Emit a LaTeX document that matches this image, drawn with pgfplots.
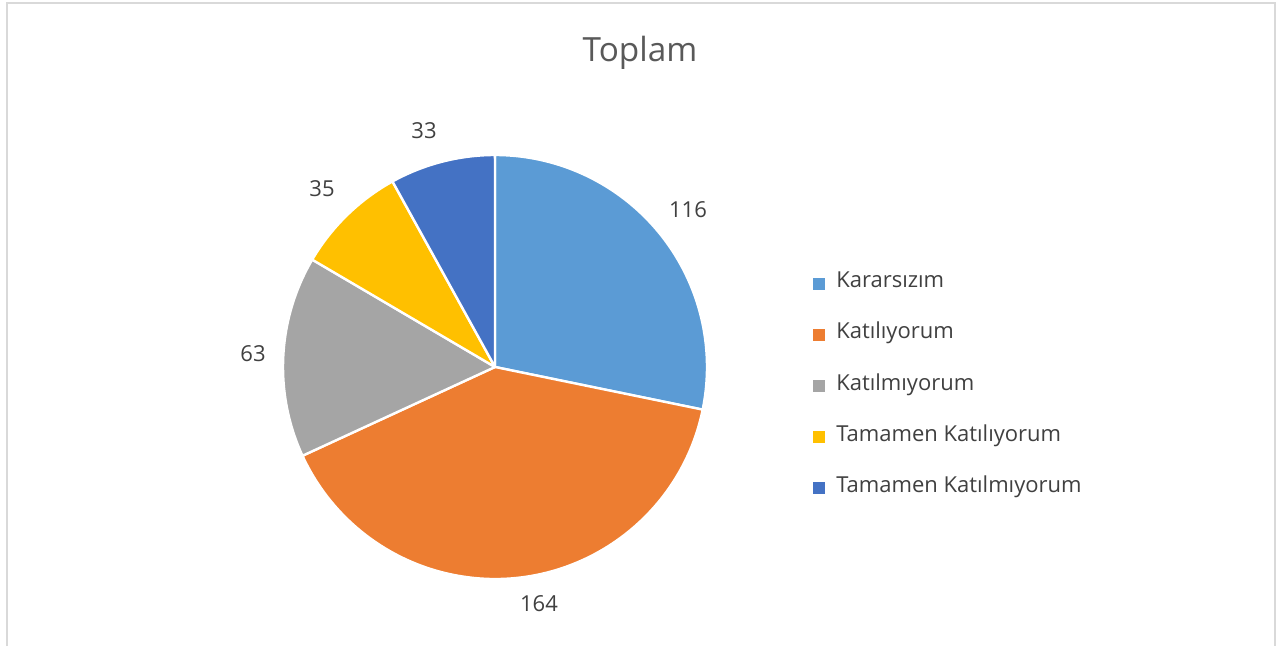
\documentclass[border=0pt]{standalone}
\usepackage{fontspec}
\setmainfont{Open Sans}
\usepackage{pgfplots}
\usepackage{pgfplotstable}
\pgfplotsset{compat=1.18}

\definecolor{c0}{HTML}{5B9BD5}
\definecolor{c1}{HTML}{ED7D31}
\definecolor{c2}{HTML}{A5A5A5}
\definecolor{c3}{HTML}{FFC000}
\definecolor{c4}{HTML}{4472C4}
\definecolor{titlegray}{HTML}{595959}
\definecolor{labelgray}{HTML}{404040}
\definecolor{framegray}{HTML}{D9D9D9}

% pie data; lx, ly = value label position (px from the top left)
\pgfplotstableread[col sep=comma]{
name,value,lx,ly
Kararsızım,116,688,210
Katılıyorum,164,539,604
Katılmıyorum,63,253,354
Tamamen Katılıyorum,35,322,189
Tamamen Katılmıyorum,33,424,131
}\piedata

\newcommand\getv[2]{\csname #1#2\endcsname}

\begin{document}
% total and slice angles (clockwise from the top)
\pgfplotstablegetrowsof{\piedata}%
\pgfmathtruncatemacro\lastrow{\pgfplotsretval-1}%
\xdef\total{0}%
\foreach \i in {0,...,\lastrow}{%
  \pgfplotstablegetelem{\i}{value}\of\piedata
  \pgfmathsetmacro\tmp{\total+\pgfplotsretval}%
  \xdef\total{\tmp}%
}%
\xdef\cur{90}%
\foreach \i in {0,...,\lastrow}{%
  \pgfplotstablegetelem{\i}{value}\of\piedata
  \expandafter\xdef\csname va\i\endcsname{\pgfplotsretval}%
  \pgfmathsetmacro\sweep{\pgfplotsretval/\total*360}%
  \pgfmathsetmacro\endang{\cur-\sweep}%
  \expandafter\xdef\csname sa\i\endcsname{\cur}%
  \expandafter\xdef\csname ea\i\endcsname{\endang}%
  \pgfplotstablegetelem{\i}{name}\of\piedata
  \expandafter\xdef\csname na\i\endcsname{\pgfplotsretval}%
  \pgfplotstablegetelem{\i}{lx}\of\piedata
  \expandafter\xdef\csname lx\i\endcsname{\pgfplotsretval}%
  \pgfplotstablegetelem{\i}{ly}\of\piedata
  \expandafter\xdef\csname ly\i\endcsname{\pgfplotsretval}%
  \xdef\cur{\endang}%
}%
\begin{tikzpicture}
\begin{axis}[
    hide axis,
    scale only axis,
    width=957.75pt, height=484.5pt,
    xmin=0, xmax=1277, ymin=0, ymax=646,
    clip=false,
]
\fill[white] (axis cs:0,0) rectangle (axis cs:1277,646);
\draw[framegray, line width=1.2pt] (axis cs:7,0) -- (axis cs:7,643) -- (axis cs:1275,643) -- (axis cs:1275,0);

\node[text=titlegray, font=\fontsize{25}{30}\selectfont, anchor=base] at (axis cs:640,584) {Toplam};

\pgfplotsinvokeforeach{0,...,\lastrow}{
  % slice
  \fill[c#1, draw=white, line width=1.8pt, line join=round]
    (axis cs:495,279) -- ++(\getv{sa}{#1}:159pt)
    arc[start angle=\getv{sa}{#1}, end angle=\getv{ea}{#1}, radius=159pt] -- cycle;
  % value label
  \node[text=labelgray, font=\fontsize{16.5}{20}\selectfont]
    at (axis cs:\getv{lx}{#1},{646-\getv{ly}{#1}}) {\getv{va}{#1}};
  % legend entry
  \fill[c#1] (axis cs:813,{646-290-51*#1}) rectangle (axis cs:825,{646-278-51*#1});
  \node[text=labelgray, font=\fontsize{16.5}{20}\selectfont, anchor=base west, inner sep=0pt]
    at (axis cs:836,{646-288-51*#1}) {\getv{na}{#1}};
}
\end{axis}
\end{tikzpicture}
\end{document}
